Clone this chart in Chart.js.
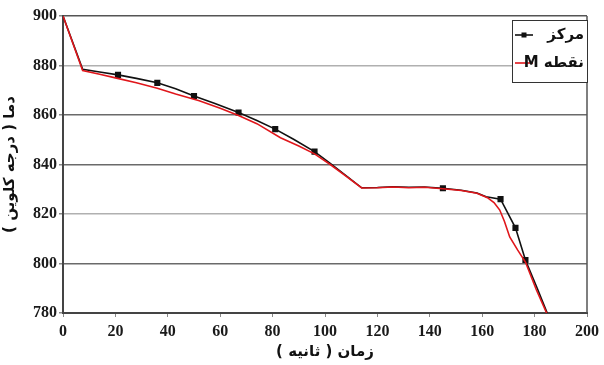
<!DOCTYPE html>
<html>
<head>
<meta charset="utf-8">
<script src="https://cdn.jsdelivr.net/npm/chart.js@4"></script>
<style>
  html, body { margin: 0; padding: 0; background: #fff; }
  #wrap { width: 604px; height: 365px; position: relative; }
</style>
</head>
<body>
<div id="wrap"><canvas id="c" width="604" height="365"></canvas></div>
<script>
// ---- data ----
const seriesNames = ["مرکز", "نقطه M"];

const timeCenter = [0, 7.5, 14, 21, 28, 36, 43, 50, 58, 67, 74, 81, 88, 96, 102, 108, 114, 120, 126, 132, 138, 145, 152, 158, 161.5, 167, 172.7, 176.5, 181, 185];
const tempCenter = [900, 878.5, 877.4, 876.2, 874.8, 873.0, 870.6, 867.7, 864.6, 861.0, 857.8, 854.3, 850.2, 845.2, 840.5, 835.5, 830.6, 830.7, 831.0, 830.8, 830.9, 830.4, 829.6, 828.5, 827.0, 826.0, 814.4, 801.4, 790.0, 779.5];
const markerIdxCenter = [3, 5, 7, 9, 11, 13, 21, 25, 26, 27];

const timeM = [0, 7.5, 14, 20, 28, 36, 43, 52, 60, 67, 74, 83, 90, 96, 102, 108, 114, 120, 126, 132, 138, 145, 152, 158, 162, 164.5, 166.7, 168.5, 170.5, 173.5, 176.5, 180.7, 185];
const tempM = [900, 878.0, 876.5, 875.0, 873.0, 870.8, 868.5, 865.8, 862.7, 859.8, 856.5, 850.8, 847.5, 844.3, 840.0, 835.3, 830.5, 830.6, 830.9, 830.6, 830.8, 830.2, 829.5, 828.4, 826.6, 824.6, 821.6, 817.0, 810.7, 805.5, 800.6, 789.3, 779.0];

const xTicks = [0, 20, 40, 60, 80, 100, 120, 140, 160, 180, 200];
const yTicks = [780, 800, 820, 840, 860, 880, 900];

const xTitle = "زمان ( ثانیه )";
const yTitle = "دما ( درجه کلوین )";

// ---- build chart ----
const RLE = "\u202B", PDF = "\u202C";
const rtl = s => RLE + s + PDF;

const centerPts = timeCenter.map((t, i) => ({ x: t, y: tempCenter[i] }));
const mPts = timeM.map((t, i) => ({ x: t, y: tempM[i] }));
const centerRadii = timeCenter.map((t, i) => markerIdxCenter.includes(i) ? 3.2 : 0);

const gridColorFor = v => {
  if (v === 880 || v === 820) return '#b0b0b0';
  if (v === 900) return '#555';
  return '#6a6a6a';
};

const legendPlugin = {
  id: 'boxLegend',
  afterDraw(chart) {
    const ctx = chart.ctx;
    const ca = chart.chartArea;
    ctx.save();
    // right border of plot area
    ctx.strokeStyle = '#555';
    ctx.lineWidth = 1.5;
    ctx.beginPath();
    ctx.moveTo(ca.right, ca.top);
    ctx.lineTo(ca.right, ca.bottom);
    ctx.stroke();

    // legend box
    const bx = 512, by = 20, bw = 75, bh = 62;
    ctx.fillStyle = '#fff';
    ctx.fillRect(bx, by, bw, bh);
    ctx.strokeStyle = '#333';
    ctx.lineWidth = 1;
    ctx.strokeRect(bx + 0.5, by + 0.5, bw, bh);

    const ds = chart.data.datasets;
    const rows = [35, 63];
    ds.forEach((d, i) => {
      const y = rows[i];
      ctx.strokeStyle = d.borderColor;
      ctx.lineWidth = 1.6;
      ctx.beginPath();
      ctx.moveTo(515, y);
      ctx.lineTo(533, y);
      ctx.stroke();
      if (i === 0) {
        ctx.fillStyle = d.borderColor;
        ctx.fillRect(521.5, y - 2.5, 5, 5);
      }
      ctx.fillStyle = '#111';
      ctx.font = 'bold 15px "DejaVu Sans", sans-serif';
      ctx.textAlign = 'right';
      ctx.textBaseline = 'middle';
      ctx.fillText(rtl(d.label), 584, y);
    });
    ctx.restore();
  }
};

new Chart(document.getElementById('c'), {
  type: 'line',
  data: {
    datasets: [
      {
        label: seriesNames[0],
        data: centerPts,
        borderColor: '#111111',
        backgroundColor: '#111111',
        borderWidth: 1.6,
        pointStyle: 'rect',
        pointRadius: centerRadii,
        pointHoverRadius: centerRadii,
        tension: 0,
        fill: false,
        order: 1
      },
      {
        label: seriesNames[1],
        data: mPts,
        borderColor: '#e0161b',
        backgroundColor: '#e0161b',
        borderWidth: 1.6,
        pointRadius: 0,
        tension: 0,
        fill: false,
        order: 0
      }
    ]
  },
  options: {
    responsive: false,
    animation: false,
    events: [],
    layout: { padding: { left: 0, right: 13, top: 16, bottom: 4 } },
    plugins: {
      legend: { display: false },
      tooltip: { enabled: false }
    },
    scales: {
      x: {
        type: 'linear',
        min: 0, max: 200,
        afterBuildTicks: s => { s.ticks = xTicks.map(v => ({ value: v })); },
        afterFit: s => { s.height = 48; },
        grid: { display: true, drawOnChartArea: false, drawTicks: true, tickLength: 4, color: '#666', tickColor: '#888' },
        border: { display: true, color: '#444', width: 2 },
        ticks: {
          color: '#1a1a1a',
          font: { family: '"Liberation Serif", serif', size: 16, weight: 'bold' },
          padding: 5,
          maxRotation: 0
        },
        title: {
          display: true,
          text: rtl(xTitle),
          color: '#111',
          font: { family: '"DejaVu Sans", sans-serif', size: 15, weight: 'bold' },
          padding: { top: 0, bottom: 0 }
        }
      },
      y: {
        type: 'linear',
        min: 780, max: 900,
        afterBuildTicks: s => { s.ticks = yTicks.map(v => ({ value: v })); },
        afterFit: s => { s.width = 63; },
        grid: {
          color: c => gridColorFor(c.tick ? c.tick.value : 0),
          lineWidth: 1.5,
          tickLength: 4,
          tickColor: '#888'
        },
        border: { display: true, color: '#444', width: 2 },
        ticks: {
          color: '#1a1a1a',
          font: { family: '"Liberation Serif", serif', size: 16, weight: 'bold' },
          padding: 2
        },
        title: {
          display: true,
          text: rtl(yTitle),
          color: '#111',
          font: { family: '"DejaVu Sans", sans-serif', size: 15, weight: 'bold' },
          padding: { top: 1, bottom: 0 }
        }
      }
    }
  },
  plugins: [legendPlugin]
});
</script>
</body>
</html>
